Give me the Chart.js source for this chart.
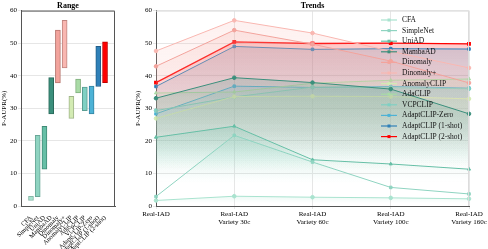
<!DOCTYPE html>
<html>
<head>
<meta charset="utf-8">
<script src="https://cdn.jsdelivr.net/npm/chart.js@4.4.1/dist/chart.umd.min.js"></script>
<style>
  html, body { margin: 0; padding: 0; background: #fff; }
  #wrap { position: relative; width: 488px; height: 249px; }
  #range { position: absolute; left: 0; top: 0; }
  #trend { position: absolute; left: 125px; top: 0; }
</style>
</head>
<body>
<div id="wrap">
  <canvas id="range" width="125" height="249"></canvas>
  <canvas id="trend" width="363" height="249"></canvas>
</div>
<script>
// methods, in legend order
var methods = [ "CFA", "SimpleNet", "UniAD", "MambaAD", "Dinomaly", "Dinomaly+", "AnomalyCLIP",
                "AdaCLIP", "VCPCLIP", "AdaptCLIP-Zero", "AdaptCLIP (1-shot)", "AdaptCLIP (2-shot)" ];
var settings = [ "Real-IAD", [ "Real-IAD", "Variety 30c" ], [ "Real-IAD", "Variety 60c" ],
                 [ "Real-IAD", "Variety 100c" ], [ "Real-IAD", "Variety 160c" ] ];

// P-AUPR per setting
var cfa         = [ 1.7, 3.0, 2.7, 2.5, 2.2 ];
var simpleNet   = [ 2.9, 21.7, 13.5, 5.7, 3.7 ];
var uniAD       = [ 21.1, 24.5, 14.2, 12.9, 11.3 ];
var mambaAD     = [ 33.1, 39.4, 37.9, 35.9, 28.3 ];
var dinomaly    = [ 42.9, 54.0, 49.7, 44.5, 37.8 ];
var dinomalyP   = [ 47.6, 57.0, 53.1, 47.5, 42.4 ];
var anomalyCLIP = [ 26.9, 33.6, 33.7, 33.6, 32.9 ];
var adaCLIP     = [ 34.7, 35.0, 37.7, 38.6, 39.0 ];
var vcpCLIP     = [ 29.3, 33.5, 36.5, 36.3, 36.0 ];
var adaptZero   = [ 28.3, 36.8, 36.4, 36.7, 36.2 ];
var adapt1      = [ 36.7, 49.0, 48.1, 48.3, 48.2 ];
var adapt2      = [ 37.9, 50.4, 49.9, 50.0, 49.8 ];

var series = [ cfa, simpleNet, uniAD, mambaAD, dinomaly, dinomalyP, anomalyCLIP,
               adaCLIP, vcpCLIP, adaptZero, adapt1, adapt2 ];
var colors = [ "#a9e3cf", "#8fd4c1", "#66bfa6", "#3b8f7c", "#f3a39c", "#f9b7b1", "#d3ebb3",
               "#a9dba6", "#7fd0c3", "#4cb2d6", "#2f80b8", "#ff0000" ];
var edges  = [ "#86b8a8", "#6aa798", "#3f8a76", "#2a6a5b", "#b8746e", "#c08580", "#a0b58a",
               "#7fae7c", "#5a9e93", "#3584a2", "#215d88", "#c00000" ];
var markers = [ "circle", "rect", "triangle", "circle", "circle", "circle", "circle",
                "triangle", "circle", "rect", "rect", "rect" ];

var serif = "'Liberation Serif', 'DejaVu Serif', serif";

function rgba( hex, a ) {
    var n = parseInt( hex.slice( 1 ), 16 );
    return "rgba(" + ( n >> 16 ) + "," + ( ( n >> 8 ) & 255 ) + "," + ( n & 255 ) + "," + a + ")";
}

// fill fades from the series' own peak, gone well before the x axis
function fade( hex, top ) {
    return function( ctx ) {
        var area = ctx.chart.chartArea;
        if( !area ) return "transparent";
        var y = ctx.chart.scales.y;
        var g = ctx.chart.ctx.createLinearGradient( 0, y.getPixelForValue( top ), 0, y.getPixelForValue( top * 0.3 ) );
        g.addColorStop( 0, rgba( hex, 0.2 ) );
        g.addColorStop( 1, rgba( hex, 0.0 ) );
        return g;
    };
}

function frame( color ) {
    return {
        id: "frame",
        afterDraw: function( chart ) {
            var a = chart.chartArea, c = chart.ctx;
            c.save();
            c.strokeStyle = color;
            c.lineWidth = 1;
            c.beginPath();
            c.moveTo( a.left, a.top + 0.5 );
            c.lineTo( a.right - 0.5, a.top + 0.5 );
            c.lineTo( a.right - 0.5, a.bottom );
            c.stroke();
            c.restore();
        }
    };
}

// legend drawn inside the plot, right side
var insideLegend = {
    id: "insideLegend",
    afterDraw: function( chart ) {
        var c = chart.ctx;
        c.save();
        c.font = "7.5px " + serif;
        c.textBaseline = "middle";
        methods.forEach( function( m, i ) {
            var y = 20 + i * 10.6, x0 = 256, x1 = 272;
            c.strokeStyle = colors[ i ];
            c.lineWidth = 1.2;
            c.beginPath();
            c.moveTo( x0, y );
            c.lineTo( x1, y );
            c.stroke();
            c.fillStyle = colors[ i ];
            c.fillRect( ( x0 + x1 ) / 2 - 1.5, y - 1.5, 3, 3 );
            c.fillStyle = "#111";
            c.fillText( m, 277, y );
        } );
        c.restore();
    }
};

new Chart( document.getElementById( "range" ), {
    type: "bar",
    data: {
        datasets: [ {
            data: methods.map( function( m, i ) {
                var s = series[ i ];
                return { x: i, y: [ Math.min.apply( null, s ), Math.max.apply( null, s ) ] };
            } ),
            backgroundColor: colors,
            borderColor: edges,
            borderWidth: 1,
            borderSkipped: false,
            barThickness: 5
        } ]
    },
    options: {
        responsive: false,
        animation: false,
        layout: { padding: { right: 10 } },
        plugins: {
            legend: { display: false },
            tooltip: { enabled: false },
            title: {
                display: true, text: "Range", fullSize: false, color: "#000",
                font: { family: serif, size: 8, weight: "bold" },
                padding: { top: 1, bottom: 0 }
            }
        },
        scales: {
            x: {
                type: "linear", min: -0.9, max: 11.9,
                afterBuildTicks: function( s ) {
                    s.ticks = methods.map( function( m, i ) { return { value: i }; } );
                },
                afterFit: function( s ) { s.height = 43; },
                ticks: {
                    autoSkip: false, minRotation: 45, maxRotation: 45, padding: 0,
                    color: "#000", font: { family: serif, size: 6.5 },
                    callback: function( v ) { return methods[ v ]; }
                },
                grid: { display: false },
                border: { color: "#555" }
            },
            y: {
                min: 0, max: 60,
                afterFit: function( s ) { s.width = 21; },
                ticks: { stepSize: 10, padding: 1, color: "#000", font: { family: serif, size: 7 } },
                grid: { color: "#e6e6e6", tickLength: 3 },
                border: { color: "#555" },
                title: {
                    display: true, text: "P-AUPR(%)", color: "#000",
                    font: { family: serif, size: 7 }, padding: { top: 0, bottom: 0 }
                }
            }
        }
    },
    plugins: [ frame( "#555" ) ]
} );

new Chart( document.getElementById( "trend" ), {
    type: "line",
    data: {
        labels: settings,
        datasets: series.map( function( s, i ) {
            return {
                label: methods[ i ],
                data: s,
                borderColor: colors[ i ],
                backgroundColor: fade( colors[ i ], Math.max.apply( null, s ) ),
                pointBackgroundColor: colors[ i ],
                pointBorderColor: colors[ i ],
                pointStyle: markers[ i ],
                pointRadius: 1.8,
                borderWidth: i == 11 ? 1.3 : 1,
                fill: "origin",
                tension: 0
            };
        } )
    },
    options: {
        responsive: false,
        animation: false,
        layout: { padding: { left: 9, right: 19 } },
        plugins: {
            legend: { display: false },
            tooltip: { enabled: false },
            title: {
                display: true, text: "Trends", fullSize: false, color: "#000",
                font: { family: serif, size: 8, weight: "bold" },
                padding: { top: 1, bottom: 0 }
            }
        },
        scales: {
            x: {
                offset: false,
                afterFit: function( s ) { s.height = 43; },
                ticks: { maxRotation: 0, padding: 1, color: "#000", font: { family: serif, size: 7 } },
                grid: { color: "#e6e6e6", tickLength: 3 },
                border: { color: "#555" }
            },
            y: {
                min: 0, max: 60,
                afterFit: function( s ) { s.width = 22; },
                ticks: { stepSize: 10, padding: 1, color: "#000", font: { family: serif, size: 7 } },
                grid: { color: "#e6e6e6", tickLength: 3 },
                border: { color: "#555" },
                title: {
                    display: true, text: "P-AUPR(%)", color: "#000",
                    font: { family: serif, size: 7 }, padding: { top: 0, bottom: 0 }
                }
            }
        }
    },
    plugins: [ frame( "#dcdcdc" ), insideLegend ]
} );
</script>
</body>
</html>
